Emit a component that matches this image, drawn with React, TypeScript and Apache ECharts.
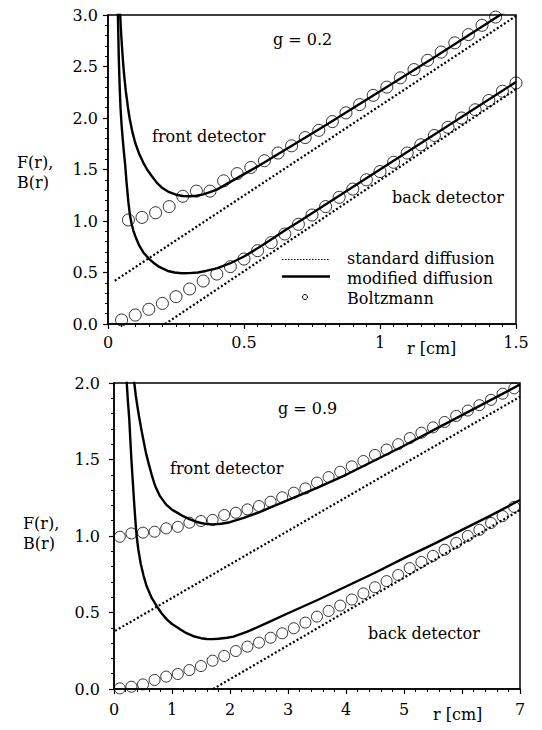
import React, { useEffect, useRef } from "react";
import * as echarts from "echarts";

// ---------- g = 0.2 (top panel) ----------
const topFrontCircleR = [0.075, 0.125, 0.175, 0.225, 0.275, 0.325, 0.375, 0.425, 0.475, 0.525, 0.575, 0.625, 0.675, 0.725, 0.775, 0.825, 0.875, 0.925, 0.975, 1.025, 1.075, 1.125, 1.175, 1.225, 1.275, 1.325, 1.375, 1.425];
const topFrontCircleF = [1.01, 1.035, 1.08, 1.14, 1.24, 1.29, 1.29, 1.39, 1.46, 1.52, 1.585, 1.66, 1.73, 1.81, 1.88, 1.965, 2.05, 2.13, 2.22, 2.3, 2.39, 2.47, 2.56, 2.64, 2.73, 2.81, 2.9, 2.98];
const topBackCircleR = [0.05, 0.1, 0.15, 0.2, 0.25, 0.3, 0.35, 0.4, 0.45, 0.5, 0.55, 0.6, 0.65, 0.7, 0.75, 0.8, 0.85, 0.9, 0.95, 1.0, 1.05, 1.1, 1.15, 1.2, 1.25, 1.3, 1.35, 1.4, 1.45, 1.5];
const topBackCircleB = [0.039, 0.087, 0.143, 0.2, 0.265, 0.34, 0.417, 0.485, 0.557, 0.631, 0.712, 0.79, 0.874, 0.968, 1.058, 1.14, 1.23, 1.31, 1.4, 1.48, 1.57, 1.66, 1.74, 1.83, 1.91, 2.0, 2.08, 2.17, 2.26, 2.34];
const topFrontModR = [0.044, 0.047, 0.05, 0.053, 0.056, 0.06, 0.065, 0.07, 0.075, 0.08, 0.09, 0.1, 0.115, 0.13, 0.145, 0.16, 0.18, 0.2, 0.225, 0.25, 0.275, 0.3, 0.325, 0.35, 0.375, 0.4, 0.45, 0.5, 0.55, 0.6, 0.65, 0.7, 0.8, 0.9, 1.0, 1.1, 1.2, 1.3, 1.4, 1.5];
const topFrontModF = [3.05, 2.88, 2.75, 2.63, 2.52, 2.4, 2.27, 2.17, 2.07, 1.99, 1.86, 1.76, 1.65, 1.565, 1.495, 1.44, 1.37, 1.32, 1.28, 1.255, 1.243, 1.24, 1.245, 1.258, 1.28, 1.305, 1.38, 1.455, 1.53, 1.61, 1.69, 1.77, 1.93, 2.095, 2.26, 2.425, 2.59, 2.76, 2.93, 3.1];
const topBackModR = [0.036, 0.038, 0.04, 0.043, 0.046, 0.05, 0.054, 0.058, 0.063, 0.068, 0.075, 0.081, 0.087, 0.093, 0.1, 0.115, 0.13, 0.148, 0.167, 0.185, 0.2, 0.22, 0.245, 0.27, 0.3, 0.33, 0.36, 0.4, 0.45, 0.5, 0.553, 0.6, 0.651, 0.7, 0.75, 0.9, 1.1, 1.3, 1.5];
const topBackModB = [3.05, 2.8, 2.55, 2.3, 2.1, 1.93, 1.8, 1.68, 1.55, 1.38, 1.18, 1.05, 0.97, 0.91, 0.855, 0.76, 0.695, 0.64, 0.595, 0.56, 0.54, 0.515, 0.5, 0.493, 0.494, 0.5, 0.515, 0.54, 0.59, 0.655, 0.74, 0.82, 0.91, 0.99, 1.075, 1.33, 1.67, 2.01, 2.35];
const topFrontStdR = [0.025, 1.5];
const topFrontStdF = [0.42, 2.99];
const topBackStdR = [0.21, 1.5];
const topBackStdB = [0.0, 2.28];

// ---------- g = 0.9 (bottom panel) ----------
const botCircleR = [0.1, 0.3, 0.5, 0.7, 0.9, 1.1, 1.3, 1.5, 1.7, 1.9, 2.1, 2.3, 2.5, 2.7, 2.9, 3.1, 3.3, 3.5, 3.7, 3.9, 4.1, 4.3, 4.5, 4.7, 4.9, 5.1, 5.3, 5.5, 5.7, 5.9, 6.1, 6.3, 6.5, 6.7, 6.9];
const botFrontCircleF = [0.995, 1.017, 1.022, 1.028, 1.05, 1.06, 1.087, 1.098, 1.105, 1.137, 1.152, 1.174, 1.196, 1.224, 1.253, 1.283, 1.311, 1.349, 1.385, 1.42, 1.455, 1.49, 1.53, 1.565, 1.6, 1.64, 1.675, 1.71, 1.745, 1.785, 1.82, 1.855, 1.89, 1.93, 1.965];
const botBackCircleB = [0.004, 0.015, 0.03, 0.059, 0.081, 0.098, 0.124, 0.15, 0.185, 0.216, 0.248, 0.277, 0.303, 0.335, 0.364, 0.397, 0.434, 0.473, 0.51, 0.545, 0.585, 0.625, 0.665, 0.705, 0.745, 0.79, 0.83, 0.87, 0.91, 0.955, 1.0, 1.04, 1.085, 1.13, 1.19];
const botFrontModR = [0.33, 0.35, 0.375, 0.4, 0.437, 0.47, 0.5, 0.55, 0.6, 0.65, 0.707, 0.79, 0.9, 1.0, 1.11, 1.2, 1.3, 1.4, 1.5, 1.6, 1.7, 1.85, 2.0, 2.25, 2.5, 2.75, 3.0, 3.5, 4.0, 4.5, 5.0, 5.5, 6.0, 6.5, 7.0];
const botFrontModF = [2.05, 2.0, 1.92, 1.855, 1.77, 1.7, 1.64, 1.545, 1.47, 1.4, 1.33, 1.262, 1.205, 1.172, 1.148, 1.128, 1.11, 1.095, 1.085, 1.078, 1.076, 1.08, 1.09, 1.12, 1.155, 1.195, 1.235, 1.315, 1.4, 1.495, 1.59, 1.69, 1.79, 1.89, 1.99];
const botBackModR = [0.2, 0.22, 0.24, 0.264, 0.28, 0.3, 0.315, 0.33, 0.345, 0.36, 0.375, 0.39, 0.42, 0.46, 0.51, 0.56, 0.65, 0.74, 0.82, 0.91, 1.0, 1.14, 1.25, 1.37, 1.5, 1.6, 1.7, 1.8, 1.95, 2.06, 2.3, 2.63, 3.0, 3.5, 4.0, 4.5, 5.0, 5.5, 6.0, 6.5, 7.0];
const botBackModB = [2.15, 2.0, 1.88, 1.76, 1.64, 1.5, 1.41, 1.32, 1.23, 1.15, 1.07, 1.0, 0.91, 0.82, 0.74, 0.675, 0.595, 0.54, 0.495, 0.455, 0.425, 0.39, 0.365, 0.345, 0.332, 0.327, 0.326, 0.328, 0.335, 0.342, 0.375, 0.43, 0.495, 0.58, 0.67, 0.76, 0.855, 0.945, 1.04, 1.135, 1.235];
const botFrontStdR = [0.02, 7.0];
const botFrontStdF = [0.38, 1.91];
const botBackStdR = [1.71, 7.0];
const botBackStdB = [0.0, 1.17];

const FONT = "DejaVu Serif";

const zip = (xs: number[], ys: number[]) => xs.map((x, i) => [x, ys[i]]);

function stdLine(data: number[][], idx: number) {
  return {
    type: "line",
    xAxisIndex: idx,
    yAxisIndex: idx,
    data,
    showSymbol: false,
    clip: true,
    lineStyle: { color: "#000", width: 2.2, type: [2, 2.2], cap: "butt" },
    z: 3,
  };
}
function modLine(data: number[][], idx: number) {
  return {
    type: "line",
    xAxisIndex: idx,
    yAxisIndex: idx,
    data,
    showSymbol: false,
    clip: true,
    smooth: false,
    lineStyle: { color: "#000", width: 2.4, join: "round" },
    z: 4,
  };
}
function circles(data: number[][], idx: number, size: number) {
  return {
    type: "scatter",
    xAxisIndex: idx,
    yAxisIndex: idx,
    data,
    symbol: "circle",
    symbolSize: size,
    clip: false,
    itemStyle: { color: "rgba(0,0,0,0)", borderColor: "#000", borderWidth: 1 },
    z: 5,
  };
}

function xAxisCfg(grid: number, max: number, interval: number, minorSplit: number, margin: number, fmt: (v: number) => string) {
  return {
    type: "value",
    gridIndex: grid,
    min: 0,
    max,
    interval,
    axisLine: { show: true, onZero: false, lineStyle: { color: "#000", width: 1.5 } },
    axisTick: { show: true, length: 5, lineStyle: { color: "#000", width: 1.2 } },
    minorTick: { show: true, splitNumber: minorSplit, length: 3, lineStyle: { color: "#000", width: 1 } },
    splitLine: { show: false },
    axisLabel: { color: "#000", fontFamily: FONT, fontSize: 16, margin, formatter: fmt },
  };
}
function yAxisCfg(grid: number, max: number, margin: number) {
  return {
    type: "value",
    gridIndex: grid,
    min: 0,
    max,
    interval: 0.5,
    axisLine: { show: true, onZero: false, lineStyle: { color: "#000", width: 1.5 } },
    axisTick: { show: true, length: 5, lineStyle: { color: "#000", width: 1.2 } },
    minorTick: { show: true, splitNumber: 5, length: 3, lineStyle: { color: "#000", width: 1 } },
    splitLine: { show: false },
    axisLabel: {
      color: "#000",
      fontFamily: FONT,
      fontSize: 16,
      margin,
      padding: [0, 0, 6, 0],
      formatter: (v: number) => v.toFixed(1),
    },
  };
}

function txt(text: string, x: number, y: number) {
  return {
    type: "text",
    x,
    y,
    z: 20,
    style: { text, fill: "#000", fontFamily: FONT, fontSize: 16, align: "left", verticalAlign: "middle" },
  };
}

export default function App() {
  const ref = useRef<HTMLDivElement>(null);
  useEffect(() => {
    if (!ref.current) return;
    const chart = echarts.init(ref.current, undefined, { renderer: "svg" });
    const option = {
      animation: false,
      backgroundColor: "#fff",
      grid: [
        { left: 108, top: 15, width: 408, height: 309, show: true, borderColor: "#000", borderWidth: 1.5, backgroundColor: "rgba(0,0,0,0)" },
        { left: 114, top: 383, width: 406, height: 306, show: true, borderColor: "#000", borderWidth: 1.5, backgroundColor: "rgba(0,0,0,0)" },
      ],
      xAxis: [
        xAxisCfg(0, 1.5, 0.5, 10, 10, (v: number) => (v === 0 ? "0" : String(v))),
        xAxisCfg(1, 7, 1, 5, 12, (v: number) => (v === 6 ? "" : String(v))),
      ],
      yAxis: [yAxisCfg(0, 3, 10), yAxisCfg(1, 2, 14)],
      series: [
        stdLine(zip(topFrontStdR, topFrontStdF), 0),
        stdLine(zip(topBackStdR, topBackStdB), 0),
        modLine(zip(topFrontModR, topFrontModF), 0),
        modLine(zip(topBackModR, topBackModB), 0),
        circles(zip(topFrontCircleR, topFrontCircleF), 0, 12),
        circles(zip(topBackCircleR, topBackCircleB), 0, 12),
        stdLine(zip(botFrontStdR, botFrontStdF), 1),
        stdLine(zip(botBackStdR, botBackStdB), 1),
        modLine(zip(botFrontModR, botFrontModF), 1),
        modLine(zip(botBackModR, botBackModB), 1),
        circles(zip(botCircleR, botFrontCircleF), 1, 11),
        circles(zip(botCircleR, botBackCircleB), 1, 11),
      ],
      graphic: [
        txt("g = 0.2", 273, 39.5),
        txt("front detector", 152, 136),
        txt("back detector", 392, 197.5),
        txt("standard diffusion", 347, 258),
        txt("modified diffusion", 347, 278.5),
        txt("Boltzmann", 347, 298),
        txt("F(r),", 17, 162),
        txt("B(r)", 17, 182),
        txt("r [cm]", 407, 348),
        {
          type: "line",
          z: 20,
          shape: { x1: 282, y1: 259.5, x2: 330, y2: 259.5 },
          style: { stroke: "#000", lineWidth: 1.2, lineDash: [1.5, 1.5] },
        },
        {
          type: "line",
          z: 20,
          shape: { x1: 282, y1: 276.5, x2: 330, y2: 276.5 },
          style: { stroke: "#000", lineWidth: 2.4 },
        },
        {
          type: "circle",
          z: 20,
          shape: { cx: 305, cy: 297, r: 2.5 },
          style: { stroke: "#000", fill: "none", lineWidth: 1 },
        },
        txt("g = 0.9", 278, 408),
        txt("front detector", 170, 468),
        txt("back detector", 368, 633),
        txt("F(r),", 23, 523),
        txt("B(r)", 23, 543),
        txt("r [cm]", 433, 714),
      ],
    };
    chart.setOption(option as any);
    return () => chart.dispose();
  }, []);
  return (
    <div
      ref={ref}
      style={{ position: "fixed", left: 0, top: 0, width: 542, height: 730, background: "#fff" }}
    />
  );
}
